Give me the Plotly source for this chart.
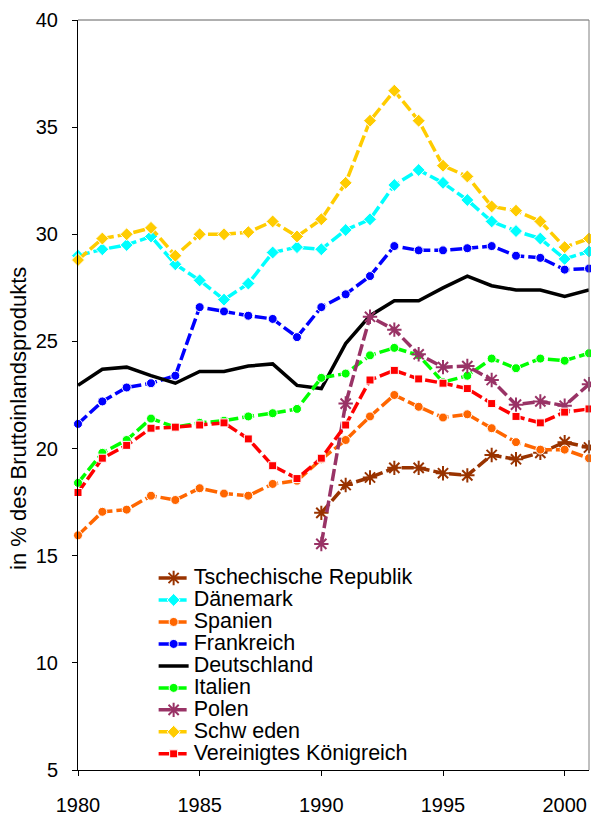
import plotly.graph_objects as go

# ======== Data (in % des BIP) ======== #
years = [1980, 1981, 1982, 1983, 1984, 1985, 1986, 1987, 1988, 1989, 1990,
         1991, 1992, 1993, 1994, 1995, 1996, 1997, 1998, 1999, 2000, 2001]
years_90 = [1990, 1991, 1992, 1993, 1994, 1995, 1996, 1997, 1998, 1999, 2000, 2001]

tschechien = [17.0, 18.3, 18.65, 19.1, 19.1, 18.85, 18.75, 19.7, 19.5, 19.8, 20.3, 20.05]
daenemark = [29.0, 29.3, 29.5, 29.9, 28.6, 27.85, 26.95, 27.7, 29.15, 29.4, 29.3,
             30.2, 30.7, 32.3, 33.0, 32.4, 31.6, 30.6, 30.15, 29.8, 28.85, 29.2]
spanien = [15.95, 17.05, 17.15, 17.8, 17.6, 18.15, 17.9, 17.8, 18.35, 18.5, 19.5,
           20.4, 21.5, 22.5, 21.95, 21.45, 21.6, 20.95, 20.3, 19.95, 19.95, 19.55]
frankreich = [21.15, 22.2, 22.85, 23.05, 23.4, 26.6, 26.4, 26.2, 26.05, 25.2, 26.6,
              27.2, 28.05, 29.45, 29.25, 29.25, 29.35, 29.45, 29.0, 28.9, 28.35, 28.4]
deutschland = [22.95, 23.7, 23.8, 23.4, 23.05, 23.6, 23.6, 23.85, 23.95, 22.95, 22.8,
               24.9, 26.2, 26.9, 26.9, 27.5, 28.05, 27.6, 27.4, 27.4, 27.1, 27.4]
italien = [18.4, 19.8, 20.4, 21.4, 21.0, 21.2, 21.3, 21.5, 21.65, 21.85, 23.3,
           23.5, 24.35, 24.7, 24.35, 23.1, 23.4, 24.2, 23.75, 24.2, 24.1, 24.45]
polen = [15.55, 22.1, 26.15, 25.55, 24.4, 23.8, 23.85, 23.2, 22.05, 22.2, 22.0, 23.0]
schweden = [28.8, 29.8, 30.0, 30.3, 29.0, 30.0, 30.0, 30.1, 30.6, 29.9, 30.7,
            32.4, 35.3, 36.7, 35.3, 33.2, 32.7, 31.3, 31.1, 30.6, 29.4, 29.8]
uk = [17.95, 19.55, 20.15, 20.95, 21.0, 21.1, 21.2, 20.45, 19.2, 18.6, 19.55,
      21.1, 23.2, 23.65, 23.25, 23.05, 22.8, 22.1, 21.5, 21.2, 21.7, 21.85]

font_fam = "Liberation Sans, Arial, sans-serif"
dash = "12px,4px"

# name, x, y, colour, symbol, marker size, dashed?
series = [
    ("Tschechische Republik", years_90, tschechien, "#993300", "asterisk-open", 12, True),
    ("Dänemark", years, daenemark, "#00FFFF", "diamond", 10, True),
    ("Spanien", years, spanien, "#FF6600", "circle", 9, True),
    ("Frankreich", years, frankreich, "#0000FF", "circle", 9, True),
    ("Deutschland", years, deutschland, "#000000", None, 0, False),
    ("Italien", years, italien, "#00FF00", "circle", 9, True),
    ("Polen", years_90, polen, "#993366", "asterisk-open", 12, True),
    ("Schw eden", years, schweden, "#FFCC00", "diamond", 10, True),
    ("Vereinigtes Königreich", years, uk, "#FF0000", "square", 8, True),
]

fig = go.Figure()
for name, xs, ys, col, sym, msize, dashed in series:
    if sym is None:
        mode = "lines"
        marker = None
    elif sym == "asterisk-open":
        mode = "lines+markers"
        marker = dict(symbol=sym, size=msize, color=col, line=dict(color=col, width=2))
    else:
        mode = "lines+markers"
        marker = dict(symbol=sym, size=msize, color=col, line=dict(color="white", width=1))
    fig.add_trace(go.Scatter(
        x=xs, y=ys, mode=mode,
        name="<span style='font-size:21.5px'>" + name + "</span>",
        line=dict(color=col, width=3.5, dash=dash if dashed else "solid"),
        marker=marker,
        cliponaxis=False,
    ))

axis_common = dict(showgrid=False, zeroline=False, showline=True, linecolor="black",
                   linewidth=1, ticks="outside", ticklen=5, tickcolor="black",
                   tickfont=dict(size=20, color="black", family=font_fam))

fig.update_xaxes(range=[1980, 2001], tick0=1980, dtick=5, ticklabelstandoff=12, **axis_common)
fig.update_yaxes(range=[5, 40], tick0=5, dtick=5, ticklabelstandoff=10, **axis_common)

fig.update_layout(
    width=591, height=818,
    margin=dict(l=78, r=2, t=20, b=41),
    paper_bgcolor="white", plot_bgcolor="white",
    font=dict(family=font_fam, color="black"),
    showlegend=True,
    legend=dict(x=0.148, y=0.0, xanchor="left", yanchor="bottom",
                bgcolor="rgba(0,0,0,0)", font=dict(size=14.6, color="black", family=font_fam),
                tracegroupgap=0),
    shapes=[
        dict(type="line", xref="paper", yref="paper", x0=0, x1=1, y0=1, y1=1,
             line=dict(color="#606060", width=1)),
        dict(type="line", xref="paper", yref="paper", x0=1, x1=1, y0=0, y1=1,
             line=dict(color="#808080", width=1)),
    ],
    annotations=[
        dict(text="in % des Bruttoinlandsprodukts", textangle=-90, showarrow=False,
             xref="paper", yref="paper", x=-0.116, y=0.469, xanchor="center", yanchor="middle",
             font=dict(size=22, color="black", family=font_fam)),
    ],
)

# drop the default body margin so the figure fills the window exactly
fig.write_html("out.html", config={"displayModeBar": False},
               post_script="document.body.style.margin='0';")
